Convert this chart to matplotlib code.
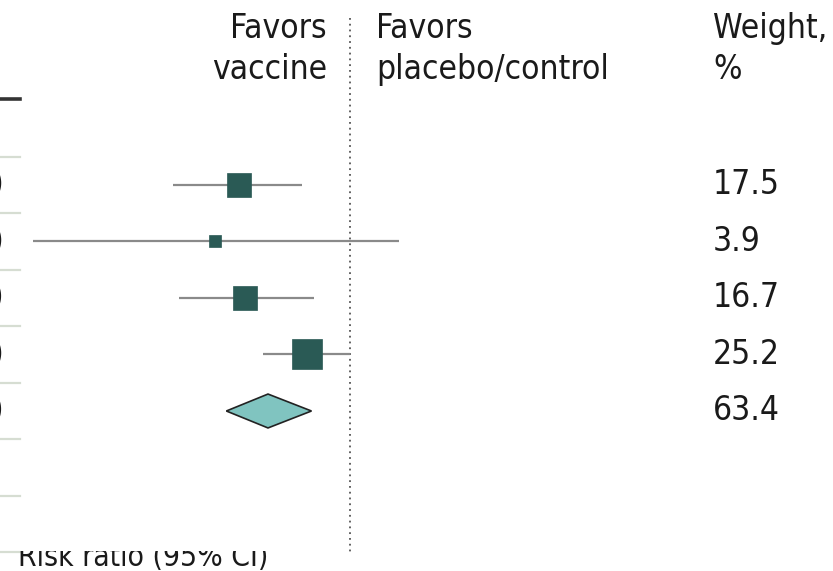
import matplotlib
matplotlib.use("Agg")
import matplotlib.pyplot as plt
from matplotlib.patches import Polygon
from matplotlib.transforms import Bbox
import numpy as np

# Study-level risk ratios with 95% CIs and pooled subgroup estimate
rr = [0.33, 0.26, 0.35, 0.65]
ci_low = [0.17, 0.042, 0.18, 0.42]
ci_high = [0.62, 1.63, 0.70, 1.00]
weights = [17.5, 3.9, 16.7, 25.2]

pooled_rr = 0.44
pooled_low = 0.29
pooled_high = 0.68
pooled_weight = 63.4

W, H = 833, 571
DPI = 100
FONT = ["DejaVu Sans"]
STRETCH = "condensed"
TXT = "#1a1a1a"
SQUARE = "#2a5a55"
DIAMOND = "#80c4c0"
CI_LINE = "#8a8a8a"
SEP = "#d6ddd2"

fig = plt.figure(figsize=(W / DPI, H / DPI), dpi=DPI)
ax = fig.add_axes([0, 0, 1, 1])
ax.set_xscale("log")
decade_px = 230.0
x_one_px = 350.0
ax.set_xlim(10 ** (-x_one_px / decade_px), 10 ** ((W - x_one_px) / decade_px))
row_px, row0_px = 56.5, 185.0
ax.set_ylim((H - row0_px) / row_px, -row0_px / row_px)
ax.axis("off")

fs = 24
style = dict(fontsize=fs, family=FONT, fontstretch=STRETCH, color=TXT)
ytrans = ax.get_yaxis_transform()

# Study rows
for i, (m, lo, hi, w) in enumerate(zip(rr, ci_low, ci_high, weights)):
    ax.plot([lo, hi], [i, i], color=CI_LINE, lw=1.6, solid_capstyle="butt", zorder=2)
    side_px = 5.8 * np.sqrt(w)
    ax.plot([m], [i], marker="s", ms=side_px * 72 / DPI, color=SQUARE,
            mec=SQUARE, mew=0.5, zorder=3)
    ax.text(713 / W, i, f"{w:.1f}", transform=ytrans, ha="left", va="center", **style)
    ax.text(4 / W, i, f"{m:.2f} ({lo:.2f}-{hi:.2f})", transform=ytrans,
            ha="right", va="center", **style)

# Pooled estimate diamond
k = len(rr)
h = 0.30
ax.add_patch(Polygon([[pooled_low, k], [pooled_rr, k - h], [pooled_high, k], [pooled_rr, k + h]],
                     closed=True, facecolor=DIAMOND, edgecolor="#222222", lw=1.2, zorder=3))
ax.text(713 / W, k, f"{pooled_weight:.1f}", transform=ytrans, ha="left", va="center", **style)
ax.text(4 / W, k, f"{pooled_rr:.2f} ({pooled_low:.2f}-{pooled_high:.2f})",
        transform=ytrans, ha="right", va="center", **style)

# Row separators of the table on the left
for yv in np.arange(-0.5, 7.0, 1.0):
    ax.plot([0, 20 / W], [yv, yv], transform=ytrans, color=SEP, lw=1.6, zorder=1)
ax.plot([0, 20 / W], [-1.52, -1.52], transform=ytrans, color="#333333", lw=2.6, zorder=1)

# Line of no effect
ax.plot([1, 1], [-2.95, 6.5], color="#555555", lw=1.3, ls=(0, (1, 2.2)), zorder=1)

# Header text
top = 1 - 12 / H
ax.text(327 / W, top, "Favors\nvaccine", transform=ax.transAxes, ha="right",
        va="top", linespacing=1.3, **style)
ax.text(376 / W, top, "Favors\nplacebo/control", transform=ax.transAxes, ha="left",
        va="top", linespacing=1.3, **style)
ax.text(713 / W, top, "Weight,\n%", transform=ax.transAxes, ha="left",
        va="top", linespacing=1.3, **style)

# Axis title, partially hidden under the plot area edge
title_style = dict(style, fontsize=21.5)
t = ax.text(18 / W, 5 / H, "Risk ratio (95% CI)", transform=ax.transAxes, ha="left",
            va="baseline", **title_style)
t.set_clip_box(Bbox([[0, 0], [W, H - 551]]))
t.set_clip_on(True)

fig.savefig("out.png", dpi=DPI)
